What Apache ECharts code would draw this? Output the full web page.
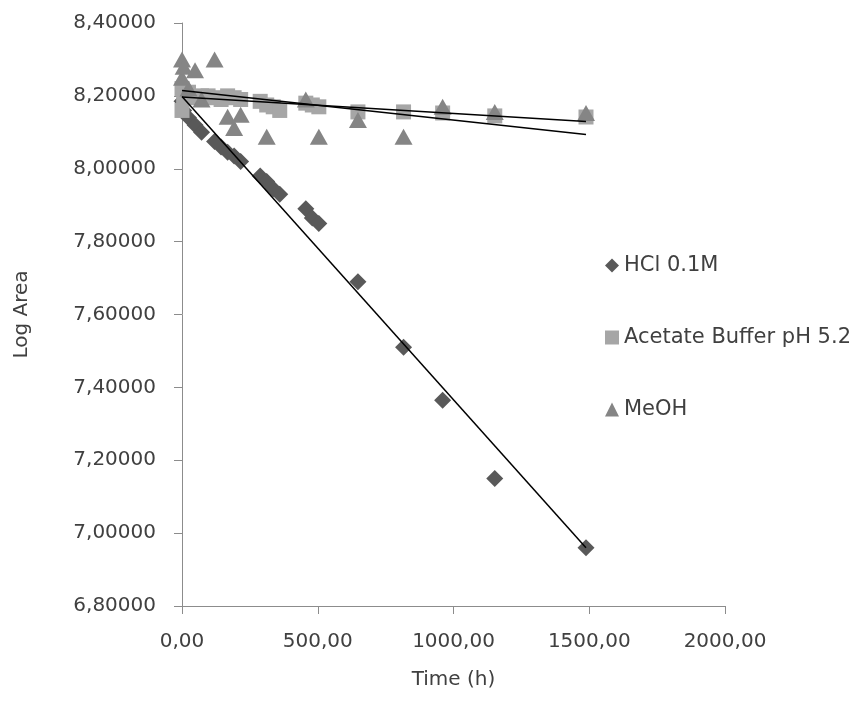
<!DOCTYPE html>
<html lang="en">
  <head>
    <meta charset="utf-8" />
    <title>Log Area vs Time</title>
    <script src="https://cdn.jsdelivr.net/npm/echarts@6/dist/echarts.min.js"></script>
    <style>
      html, body { margin: 0; padding: 0; background: #fff; }
      #main { width: 852px; height: 702px; }
    </style>
  </head>
  <body>
    <div id="main"></div>
  <script>
    // data (time in hours, log of peak area)
    const hclTime = [0, 6, 24, 48, 72, 120, 144, 168, 192, 216, 288, 312, 336, 360, 456, 480, 504, 648, 816, 960, 1152, 1488];
    const hclLog  = [8.185, 8.16, 8.14, 8.12, 8.10, 8.075, 8.06, 8.045, 8.035, 8.02, 7.98, 7.965, 7.945, 7.93, 7.89, 7.865, 7.85, 7.69, 7.51, 7.365, 7.15, 6.96];

    const acetTime = [0, 0, 6, 24, 48, 72, 96, 120, 144, 168, 192, 216, 288, 312, 336, 360, 456, 480, 504, 648, 816, 960, 1152, 1488];
    const acetLog  = [8.22, 8.16, 8.20, 8.21, 8.195, 8.20, 8.20, 8.195, 8.19, 8.20, 8.195, 8.19, 8.185, 8.175, 8.17, 8.16, 8.18, 8.175, 8.17, 8.156, 8.156, 8.153, 8.145, 8.142];

    const meohTime = [0, 0, 6, 24, 48, 72, 120, 168, 192, 216, 312, 456, 504, 648, 816, 960, 1152, 1488];
    const meohLog  = [8.30, 8.25, 8.28, 8.22, 8.27, 8.19, 8.30, 8.143, 8.112, 8.148, 8.088, 8.19, 8.088, 8.134, 8.088, 8.17, 8.156, 8.153];

    const seriesNames = ['HCl 0.1M', 'Acetate Buffer pH 5.2', 'MeOH'];

    function pairs(t, v) {
      return t.map((x, i) => [x, v[i]]);
    }

    // least squares trendline over the data range, like the spreadsheet one
    function trend(t, v) {
      let n = t.length, sx = 0, sy = 0, sxx = 0, sxy = 0;
      for (let i = 0; i < n; i++) {
        sx += t[i]; sy += v[i]; sxx += t[i] * t[i]; sxy += t[i] * v[i];
      }
      let b = (n * sxy - sx * sy) / (n * sxx - sx * sx);
      let a = (sy - b * sx) / n;
      let x0 = Math.min(...t), x1 = Math.max(...t);
      return [[x0, a + b * x0], [x1, a + b * x1]];
    }

    const textColor = '#404040';
    const font = 'DejaVu Sans';
    const fontSize = 20;

    function trendSeries(t, v) {
      return {
        type: 'line',
        data: trend(t, v),
        showSymbol: false,
        silent: true,
        z: 5,
        lineStyle: { color: '#000', width: 1.5 }
      };
    }

    let chart = echarts.init(document.getElementById('main'));
    let option = {
      animation: false,
      grid: { left: 182, right: 127, top: 23, bottom: 96 },
      legend: {
        data: seriesNames,
        orient: 'vertical',
        left: 600,
        top: 250,
        itemWidth: 14,
        itemHeight: 14,
        itemGap: 51,
        textStyle: { color: textColor, fontSize: 21, fontFamily: font }
      },
      xAxis: {
        type: 'value',
        min: 0,
        max: 2000,
        interval: 500,
        name: 'Time (h)',
        nameLocation: 'middle',
        nameGap: 64,
        nameTextStyle: { color: textColor, fontSize: fontSize, fontFamily: font },
        splitLine: { show: false },
        axisLine: { lineStyle: { color: '#8c8c8c' } },
        axisTick: { show: true, length: 8, lineStyle: { color: '#8c8c8c' } },
        axisLabel: {
          color: textColor, fontSize: fontSize, fontFamily: font, margin: 26,
          formatter: v => v.toFixed(2).replace('.', ',')
        }
      },
      yAxis: {
        type: 'value',
        min: 6.8,
        max: 8.4,
        interval: 0.2,
        name: 'Log Area',
        nameLocation: 'middle',
        nameGap: 150,
        nameTextStyle: { color: textColor, fontSize: fontSize, fontFamily: font },
        splitLine: { show: false },
        axisLine: { show: true, lineStyle: { color: '#8c8c8c' } },
        axisTick: { show: true, length: 8, lineStyle: { color: '#8c8c8c' } },
        axisLabel: {
          color: textColor, fontSize: fontSize, fontFamily: font, margin: 26,
          formatter: v => v.toFixed(5).replace('.', ',')
        }
      },
      series: [
        {
          name: seriesNames[0],
          type: 'scatter',
          symbol: 'diamond',
          symbolSize: 17,
          itemStyle: { color: '#595959', opacity: 1 },
          data: pairs(hclTime, hclLog)
        },
        {
          name: seriesNames[1],
          type: 'scatter',
          symbol: 'rect',
          symbolSize: 15,
          itemStyle: { color: '#a6a6a6', opacity: 1 },
          data: pairs(acetTime, acetLog)
        },
        {
          name: seriesNames[2],
          type: 'scatter',
          symbol: 'triangle',
          symbolSize: [18, 16],
          itemStyle: { color: '#858585', opacity: 1 },
          data: pairs(meohTime, meohLog)
        },
        trendSeries(hclTime, hclLog),
        trendSeries(acetTime, acetLog),
        trendSeries(meohTime, meohLog)
      ]
    };
    chart.setOption(option);
  </script>
  </body>
</html>
